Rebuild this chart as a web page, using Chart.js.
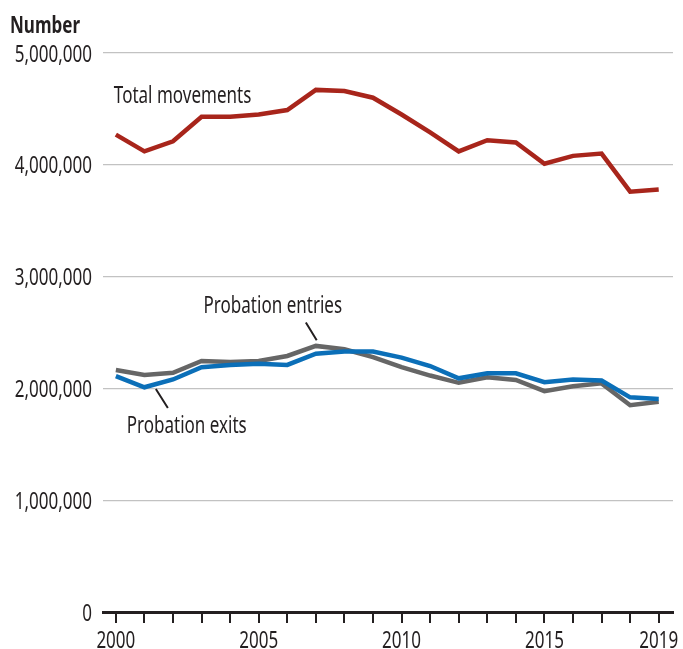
<!DOCTYPE html>
<html><head><meta charset="utf-8">
<script src="https://cdn.jsdelivr.net/npm/chart.js@4"></script>
<style>html,body{margin:0;padding:0;background:#fff}#wrap{width:683px;height:649px;position:relative}</style>
</head><body><div id="wrap"><canvas id="c" width="683" height="649"></canvas></div>
<script>
const years = [2000,2001,2002,2003,2004,2005,2006,2007,2008,2009,2010,2011,2012,2013,2014,2015,2016,2017,2018,2019];
const totalMovements = [4270000,4120000,4210000,4430000,4430000,4450000,4490000,4670000,4660000,4600000,4450000,4290000,4120000,4220000,4200000,4010000,4080000,4100000,3760000,3780000];
const probationEntries = [2165000,2120000,2140000,2245000,2236000,2245000,2290000,2380000,2350000,2280000,2190000,2115000,2050000,2100000,2075000,1975000,2020000,2045000,1850000,1880000];
const probationExits = [2110000,2010000,2080000,2190000,2210000,2220000,2210000,2310000,2330000,2330000,2275000,2200000,2090000,2135000,2135000,2055000,2080000,2070000,1920000,1905000];
const yTickValues = [0,1000000,2000000,3000000,4000000,5000000];
const xTickLabels = [2000,2005,2010,2015,2019];

const FONT = '"Noto Sans", "Open Sans", sans-serif';
const TXT = '#231f20';
const SX = 0.74;
const toPts = arr => years.map((y,i)=>({x:y,y:arr[i]}));

function txt(ctx, s, x, y, align, font){
  ctx.save();
  ctx.font = font;
  ctx.translate(x, y);
  ctx.scale(SX, 1);
  ctx.textAlign = align;
  ctx.textBaseline = 'alphabetic';
  ctx.fillText(s, 0, 0);
  ctx.restore();
}

const labelsPlugin = {
  id:'labels',
  afterDraw(chart){
    const ctx = chart.ctx, xs = chart.scales.x, ys = chart.scales.y, ca = chart.chartArea;
    ctx.save();
    ctx.fillStyle = TXT;
    const f = '23px ' + FONT;
    // axis labels
    yTickValues.forEach(v => txt(ctx, v.toLocaleString('en-US'), ca.left - 11, ys.getPixelForValue(v) + 8.5, 'right', f));
    xTickLabels.forEach(v => txt(ctx, String(v), xs.getPixelForValue(v), 648, 'center', f));
    // title
    txt(ctx, 'Number', 10, 33, 'left', 'bold 23px ' + FONT);
    // series labels
    txt(ctx, 'Total movements', xs.getPixelForValue(1999.93), ys.getPixelForValue(4555000), 'left', f);
    txt(ctx, 'Probation entries', xs.getPixelForValue(2003.07), ys.getPixelForValue(2670000), 'left', f);
    txt(ctx, 'Probation exits', xs.getPixelForValue(2000.38), ys.getPixelForValue(1600000), 'left', f);
    ctx.strokeStyle = TXT; ctx.lineWidth = 2;
    ctx.beginPath();
    ctx.moveTo(xs.getPixelForValue(2006.65), ys.getPixelForValue(2590000));
    ctx.lineTo(xs.getPixelForValue(2007.03), ys.getPixelForValue(2430000));
    ctx.moveTo(xs.getPixelForValue(2001.4), ys.getPixelForValue(1995000));
    ctx.lineTo(xs.getPixelForValue(2001.82), ys.getPixelForValue(1825000));
    ctx.stroke();
    ctx.restore();
  }
};

new Chart(document.getElementById('c'), {
  type:'line',
  data:{datasets:[
    {label:'Total movements', data:toPts(totalMovements), borderColor:'#a8251b', borderWidth:4.5},
    {label:'Probation exits', data:toPts(probationExits), borderColor:'#0b6fb8', borderWidth:4.5},
    {label:'Probation entries', data:toPts(probationEntries), borderColor:'#666666', borderWidth:4.5}
  ]},
  options:{
    responsive:false, animation:false, devicePixelRatio:1,
    layout:{padding:{top:53,right:10,left:0,bottom:0}},
    elements:{point:{radius:0},line:{tension:0,borderJoinStyle:'miter',borderCapStyle:'butt'}},
    plugins:{legend:{display:false},tooltip:{enabled:false}},
    scales:{
      x:{type:'linear', min:1999.55, max:2019.5,
        afterBuildTicks(s){ s.ticks = years.map(v=>({value:v})); },
        afterFit(s){ s.height = 37; },
        grid:{drawOnChartArea:false, drawTicks:true, tickLength:11, color:TXT, lineWidth:2},
        border:{display:true, color:TXT, width:3},
        ticks:{display:false}
      },
      y:{min:0, max:5000000,
        afterBuildTicks(s){ s.ticks = yTickValues.map(v=>({value:v})); },
        afterFit(s){ s.width = 103; },
        grid:{drawTicks:false, color:c=> c.tick && c.tick.value===0 ? 'rgba(0,0,0,0)' : '#c2c2c2', lineWidth:1.2},
        border:{display:false},
        ticks:{display:false}
      }
    }
  },
  plugins:[labelsPlugin]
});
</script></body></html>
